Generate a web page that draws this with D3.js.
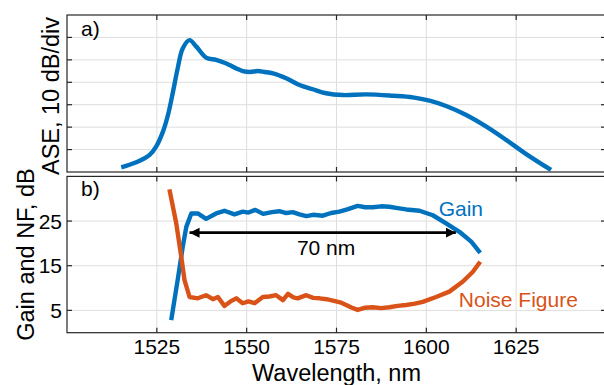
<!DOCTYPE html>
<html>
<head>
<meta charset="utf-8">
<script src="https://cdn.jsdelivr.net/npm/d3@7"></script>
<style>
  body { margin: 0; background: #fff; }
  text { font-family: "Liberation Sans", Arial, sans-serif; fill: #000; }
</style>
</head>
<body>
<svg id="chart" width="604" height="385"></svg>
<script>
// wavelength ticks shared by both panels
const wlTicks = [1525, 1550, 1575, 1600, 1625];

// a) ASE spectrum, in 10 dB divisions
const aseWl  = [1515.1, 1519.3, 1523.0, 1524.8, 1526.7, 1528.1, 1529.5, 1530.8, 1532.2, 1534.1,
                1536.0, 1538.7, 1541.5, 1543.8, 1545.2, 1547.1, 1548.9, 1551.0, 1553.1, 1555.0,
                1557.3, 1561.0, 1564.7, 1568.4, 1572.1, 1576.8, 1583.3, 1590.7, 1596.2, 1600.9,
                1605.5, 1611.1, 1616.7, 1622.2, 1627.8, 1634.7];
const aseDiv = [0.21, 0.43, 0.76, 1.13, 1.80, 2.54, 3.58, 4.62, 5.51, 5.88,
                5.59, 5.10, 5.00, 4.87, 4.77, 4.62, 4.50, 4.46, 4.50, 4.46,
                4.40, 4.18, 3.88, 3.69, 3.51, 3.43, 3.46, 3.40, 3.33, 3.18,
                2.94, 2.54, 2.02, 1.43, 0.80, 0.09];
const aseTicks = [1, 2, 3, 4, 5, 6];

// b) gain and noise figure, dB
const gainWl = [1529.0, 1530.8, 1532.2, 1533.2, 1534.6, 1536.4, 1538.7, 1541.5, 1543.8, 1546.6,
                1548.9, 1550.5, 1552.4, 1554.6, 1557.0, 1559.1, 1561.0, 1562.8, 1564.7, 1566.6,
                1568.5, 1571.2, 1573.5, 1575.8, 1578.0, 1580.9, 1583.0, 1585.1, 1587.4, 1589.7,
                1592.0, 1594.4, 1598.1, 1601.8, 1605.5, 1609.2, 1612.5, 1615.0];
const gainDb = [2.8, 11.8, 19.2, 23.7, 26.7, 26.7, 25.5, 26.7, 27.3, 26.5,
                27.1, 26.9, 27.5, 26.6, 27.0, 27.2, 26.8, 27.0, 26.5, 26.1,
                26.4, 26.2, 26.8, 27.1, 27.6, 28.4, 28.1, 28.1, 28.3, 28.2,
                27.9, 27.6, 27.3, 26.3, 24.5, 22.6, 20.4, 17.9];
const nfWl = [1528.5, 1530.4, 1531.8, 1532.7, 1534.1, 1536.4, 1538.7, 1540.6, 1542.0, 1543.8,
              1545.5, 1547.1, 1548.9, 1550.5, 1552.2, 1554.5, 1556.3, 1558.2, 1560.1, 1561.5,
              1563.0, 1564.2, 1566.6, 1568.5, 1570.3, 1572.2, 1574.0, 1576.0, 1577.7, 1579.3,
              1580.9, 1583.0, 1585.1, 1587.4, 1589.7, 1592.0, 1594.4, 1596.8, 1599.0, 1602.7,
              1606.4, 1610.1, 1612.9, 1615.0];
const nfDb = [32.1, 24.5, 17.0, 11.8, 8.0, 7.7, 8.4, 7.5, 8.0, 6.0,
              7.0, 7.7, 6.6, 7.0, 6.6, 8.0, 8.1, 8.4, 7.3, 8.7,
              7.9, 7.7, 8.4, 7.8, 7.7, 7.5, 7.2, 6.8, 6.2, 5.6,
              5.1, 5.6, 5.7, 5.5, 5.7, 6.0, 6.2, 6.5, 6.9, 8.0,
              9.2, 11.4, 13.6, 15.9];
const dbTicks = [5, 15, 25];

// bandwidth arrow and labels (wavelength, dB)
const arrowWl = [1534.1, 1608.2];
const arrowDb = 22.4;
const notes = [
  { text: "70 nm", wl: 1572.1, db: 17.3, color: "#000" },
  { text: "Gain", wl: 1609.6, db: 26.2, color: "#0072BD" },
  { text: "Noise Figure", wl: 1625.6, db: 5.8, color: "#D95319" }
];

const svg = d3.select("#chart");
const left = 67, right = 606;
const x = d3.scaleLinear().domain([1500, 1650]).range([left, right]);
const yA = d3.scaleLinear().domain([0, 7]).range([172, 15]);
const yB = d3.scaleLinear().domain([0, 35]).range([332.7, 176.4]);

const tickFont = 21;

function panel(y, yTicks, showLabels) {
  const [y0, y1] = y.range();
  const g = svg.append("g");
  // grid
  g.selectAll(".vg").data(wlTicks).enter().append("line")
    .attr("x1", d => x(d)).attr("x2", d => x(d))
    .attr("y1", y1).attr("y2", y0)
    .attr("stroke", "#dedede").attr("stroke-width", 1);
  g.selectAll(".hg").data(yTicks).enter().append("line")
    .attr("x1", left).attr("x2", right)
    .attr("y1", d => y(d)).attr("y2", d => y(d))
    .attr("stroke", "#dedede").attr("stroke-width", 1);
  // box
  g.append("rect")
    .attr("x", left).attr("y", y1)
    .attr("width", right - left).attr("height", y0 - y1)
    .attr("fill", "none").attr("stroke", "#262626").attr("stroke-width", 1.2);
  // inward ticks on all sides
  const tl = 5;
  wlTicks.forEach(t => {
    g.append("line").attr("x1", x(t)).attr("x2", x(t)).attr("y1", y0).attr("y2", y0 - tl)
      .attr("stroke", "#262626").attr("stroke-width", 1.2);
    g.append("line").attr("x1", x(t)).attr("x2", x(t)).attr("y1", y1).attr("y2", y1 + tl)
      .attr("stroke", "#262626").attr("stroke-width", 1.2);
  });
  yTicks.forEach(t => {
    g.append("line").attr("x1", left).attr("x2", left + tl).attr("y1", y(t)).attr("y2", y(t))
      .attr("stroke", "#262626").attr("stroke-width", 1.2);
    g.append("line").attr("x1", right).attr("x2", right - tl).attr("y1", y(t)).attr("y2", y(t))
      .attr("stroke", "#262626").attr("stroke-width", 1.2);
  });
  if (showLabels) {
    g.selectAll(".yl").data(yTicks).enter().append("text")
      .attr("x", left - 5).attr("y", d => y(d))
      .attr("dy", "0.36em")
      .attr("text-anchor", "end")
      .attr("font-size", tickFont)
      .text(d => d);
  }
  return g;
}

panel(yA, aseTicks, false);
panel(yB, dbTicks, true);

// x tick labels under panel b
svg.selectAll(".xl").data(wlTicks).enter().append("text")
  .attr("x", d => x(d)).attr("y", 354)
  .attr("text-anchor", "middle")
  .attr("font-size", tickFont)
  .text(d => d);

// axis titles
svg.append("text")
  .attr("x", x(1575)).attr("y", 381)
  .attr("text-anchor", "middle").attr("font-size", 23.5)
  .text("Wavelength, nm");
svg.append("text")
  .attr("transform", "translate(59,96) rotate(-90)")
  .attr("text-anchor", "middle").attr("font-size", 23.5)
  .text("ASE, 10 dB/div");
svg.append("text")
  .attr("transform", `translate(34,${(yB.range()[0] + yB.range()[1]) / 2}) rotate(-90)`)
  .attr("text-anchor", "middle").attr("font-size", 23.5)
  .text("Gain and NF, dB");

// panel tags
svg.append("text").attr("x", 81).attr("y", 36).attr("font-size", tickFont).text("a)");
svg.append("text").attr("x", 81).attr("y", 196).attr("font-size", tickFont).text("b)");

// curves
const aseLine = d3.line().x(d => x(d[0])).y(d => yA(d[1])).curve(d3.curveCatmullRom);
svg.append("path")
  .datum(d3.zip(aseWl, aseDiv))
  .attr("d", aseLine)
  .attr("fill", "none").attr("stroke", "#0072BD").attr("stroke-width", 4.4)
  .attr("stroke-linejoin", "round");

const bLine = d3.line().x(d => x(d[0])).y(d => yB(d[1]));
svg.append("path")
  .datum(d3.zip(gainWl, gainDb))
  .attr("d", bLine)
  .attr("fill", "none").attr("stroke", "#0072BD").attr("stroke-width", 4.4)
  .attr("stroke-linejoin", "round");
svg.append("path")
  .datum(d3.zip(nfWl, nfDb))
  .attr("d", bLine)
  .attr("fill", "none").attr("stroke", "#D95319").attr("stroke-width", 4.4)
  .attr("stroke-linejoin", "round");

// double-headed arrow
const defs = svg.append("defs");
defs.append("marker")
  .attr("id", "head")
  .attr("viewBox", "0 0 10 10")
  .attr("refX", 10).attr("refY", 5)
  .attr("markerUnits", "userSpaceOnUse")
  .attr("markerWidth", 10).attr("markerHeight", 11)
  .attr("orient", "auto-start-reverse")
  .append("path").attr("d", "M0,0 L10,5 L0,10 Z").attr("fill", "#000");
svg.append("line")
  .attr("x1", x(arrowWl[0])).attr("x2", x(arrowWl[1]))
  .attr("y1", yB(arrowDb)).attr("y2", yB(arrowDb))
  .attr("stroke", "#000").attr("stroke-width", 2.8)
  .attr("marker-start", "url(#head)").attr("marker-end", "url(#head)");

svg.selectAll(".note").data(notes).enter().append("text")
  .attr("x", d => x(d.wl)).attr("y", d => yB(d.db))
  .attr("text-anchor", "middle")
  .attr("font-size", 21)
  .style("fill", d => d.color)
  .text(d => d.text);
</script>
</body>
</html>
